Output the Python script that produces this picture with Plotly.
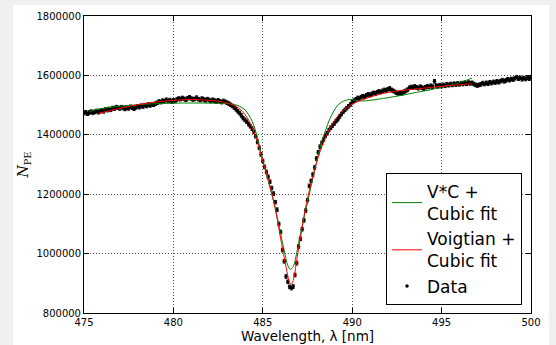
import numpy as np
import plotly.graph_objects as go

# ---- Data (counts in thousands) ----
wl_start, wl_step, n_pts = 475.0, 0.1, 251
wavelength = np.round(wl_start + wl_step * np.arange(n_pts), 1)

counts_k = [
    1473, 1476, 1471, 1475, 1478, 1474, 1477, 1480, 1476, 1479,
    1482, 1479, 1485, 1483, 1487, 1484, 1490, 1488, 1493, 1491,
    1489, 1493, 1490, 1487, 1492, 1489, 1494, 1491, 1488, 1492,
    1496, 1493, 1498, 1495, 1500, 1497, 1502, 1499, 1503, 1501,
    1505, 1508, 1512, 1510, 1515, 1513, 1518, 1514, 1517, 1512,
    1516, 1514, 1519, 1522, 1520, 1524, 1521, 1518, 1523, 1526,
    1522, 1519, 1521, 1525, 1520, 1517, 1522, 1519, 1516, 1520,
    1517, 1514, 1518, 1515, 1512, 1516, 1513, 1510, 1514, 1511,
    1508, 1505, 1501, 1497, 1492, 1486, 1479, 1473, 1465, 1456,
    1450, 1444, 1436, 1429, 1421, 1410, 1395, 1376, 1356, 1334,
    1312, 1292, 1275, 1259, 1242, 1221, 1202, 1173, 1148, 1100,
    1073, 1012, 974, 923, 905, 888, 884, 889, 928, 968,
    1024, 1050, 1082, 1112, 1145, 1180, 1228, 1245, 1266, 1290,
    1320, 1341, 1360, 1373, 1384, 1396, 1405, 1416, 1424, 1431,
    1438, 1446, 1452, 1462, 1470, 1478, 1484, 1490, 1496, 1502,
    1510, 1515, 1519, 1524, 1522, 1527, 1530, 1528, 1533, 1536,
    1534, 1538, 1541, 1539, 1543, 1546, 1544, 1548, 1551, 1549,
    1553, 1556, 1551, 1548, 1544, 1541, 1539, 1542, 1540, 1545,
    1548, 1552, 1558, 1561, 1559, 1563, 1560, 1557, 1562, 1559,
    1556, 1560, 1563, 1561, 1565, 1562, 1580, 1566, 1563, 1567,
    1564, 1568, 1565, 1570, 1567, 1571, 1568, 1572, 1569, 1573,
    1570, 1574, 1571, 1575, 1572, 1576, 1573, 1575, 1571, 1568,
    1566, 1568, 1570, 1574, 1571, 1575, 1572, 1577, 1574, 1578,
    1576, 1580, 1577, 1581, 1584, 1580, 1583, 1587, 1584, 1588,
    1586, 1590, 1594, 1589, 1592, 1587, 1591, 1588, 1592, 1589,
    1594,
]
count_err = 6000

# V*C + cubic fit
vc_x = [475.3, 475.6, 476.5, 477.5, 478.5, 479.5, 480.5, 481.5, 482.5, 483.0,
        483.4, 483.7, 484.0, 484.2, 484.4, 484.6, 484.8, 485.0, 485.2, 485.4,
        485.6, 485.8, 486.0, 486.2, 486.4, 486.55, 486.7, 486.9, 487.1, 487.3,
        487.5, 487.7, 487.9, 488.1, 488.3, 488.5, 488.75, 489.0, 489.25, 489.5,
        489.85, 490.2, 490.6, 491.0, 492.0, 492.86, 493.6, 494.35, 495.0, 495.5,
        496.0, 496.4, 496.7]
vc_y_k = [1478, 1484, 1493, 1499, 1503, 1506, 1507, 1507, 1506, 1505,
          1502, 1496, 1484, 1468, 1446, 1412, 1366, 1310, 1270, 1222,
          1178, 1124, 1065, 1010, 960, 947, 956, 1003, 1065, 1120,
          1172, 1228, 1282, 1332, 1378, 1413, 1454, 1483, 1503, 1513,
          1519, 1516, 1514, 1516, 1525, 1534, 1543, 1551, 1561, 1567,
          1576, 1584, 1591]

# Voigtian + cubic fit
vo_x = [475.8, 476.5, 477.0, 478.0, 479.0, 480.0, 481.0, 482.0, 482.5, 483.0,
        483.4, 483.7, 484.0, 484.2, 484.4, 484.6, 484.8, 485.0, 485.2, 485.4,
        485.6, 485.8, 486.0, 486.2, 486.35, 486.5, 486.6, 486.75, 486.9, 487.1,
        487.3, 487.5, 487.7, 487.9, 488.1, 488.3, 488.6, 489.0, 489.5, 490.0,
        490.5, 491.0, 491.7, 492.5, 493.5, 494.5, 495.5, 496.7]
vo_y_k = [1472, 1482, 1489, 1501, 1510, 1516, 1519, 1516, 1513, 1507,
          1498, 1488, 1468, 1450, 1425, 1394, 1355, 1312, 1272, 1228,
          1178, 1120, 1050, 985, 940, 903, 897, 922, 980, 1050,
          1125, 1185, 1236, 1283, 1325, 1360, 1404, 1448, 1482, 1503,
          1516, 1527, 1539, 1547, 1554, 1560, 1566, 1572]

x_ticks = [475, 480, 485, 490, 495, 500]
y_ticks = [800000, 1000000, 1200000, 1400000, 1600000, 1800000]

counts = [v * 1000 for v in counts_k]
vc_y = [v * 1000 for v in vc_y_k]
vo_y = [v * 1000 for v in vo_y_k]

fig = go.Figure()
fig.add_trace(go.Scatter(
    x=wavelength, y=counts, mode="markers", name="Data", legendrank=3,
    marker=dict(color="black", size=3.5),
    error_y=dict(type="constant", value=count_err, color="black",
                 thickness=1, width=1.5),
))
fig.add_trace(go.Scatter(
    x=vc_x, y=vc_y, mode="lines", name="V*C +<br>Cubic fit", legendrank=1,
    line=dict(color="#008000", width=1, shape="spline"),
))
fig.add_trace(go.Scatter(
    x=vo_x, y=vo_y, mode="lines", name="Voigtian +<br>Cubic fit", legendrank=2,
    line=dict(color="#ff0000", width=1, shape="spline"),
))

L, R, T, B = 84, 25, 16, 32
W, H = 556, 345
pw, ph = W - L - R, H - T - B
def px2paper_x(px):
    return (px - L) / pw
def py2paper_y(py):
    return (H - B - py) / ph

grey = "#f0f0f0"
shapes = [
    dict(type="rect", xref="paper", yref="paper", layer="below",
         x0=px2paper_x(0), x1=px2paper_x(13), y0=py2paper_y(H), y1=py2paper_y(0),
         fillcolor=grey, line_width=0),
    dict(type="rect", xref="paper", yref="paper", layer="below",
         x0=px2paper_x(0), x1=px2paper_x(W), y0=py2paper_y(5), y1=py2paper_y(0),
         fillcolor=grey, line_width=0),
    dict(type="rect", xref="paper", yref="paper", layer="below",
         x0=px2paper_x(549), x1=px2paper_x(W), y0=py2paper_y(H), y1=py2paper_y(0),
         fillcolor=grey, line_width=0),
]

axis_common = dict(
    showline=True, linecolor="black", linewidth=1, mirror="ticks",
    ticks="inside", ticklen=5, tickwidth=1, tickcolor="black",
    showgrid=True, gridcolor="#555555", gridwidth=1, griddash="1px,2px",
    zeroline=False, tickfont=dict(family="DejaVu Sans", size=10, color="black"),
)

fig.update_layout(
    width=W, height=H,
    margin=dict(l=L, r=R, t=T, b=B, autoexpand=False),
    paper_bgcolor="white", plot_bgcolor="white",
    shapes=shapes,
    showlegend=True,
    legend=dict(
        x=px2paper_x(522), y=py2paper_y(305), xanchor="right", yanchor="bottom",
        bgcolor="white", bordercolor="black", borderwidth=1,
        font=dict(family="DejaVu Sans", size=17, color="black"),
        tracegroupgap=0, itemwidth=30,
    ),
    xaxis=dict(
        range=[475, 500], tickvals=x_ticks, ticktext=[str(t) for t in x_ticks],
        title=dict(text="Wavelength, λ [nm]", standoff=2,
                   font=dict(family="DejaVu Sans", size=13.5, color="black")),
        **axis_common,
    ),
    yaxis=dict(
        range=[800000, 1800000], tickvals=y_ticks, tickformat="d",
        title=dict(text="<i>N</i><sub>PE</sub>", standoff=4,
                   font=dict(family="DejaVu Serif", size=14, color="black")),
        **axis_common,
    ),
)

fig.write_html(
    "out.html",
    config={"displayModeBar": False},
    post_script="document.body.style.margin='0';document.body.style.overflow='hidden';",
)
